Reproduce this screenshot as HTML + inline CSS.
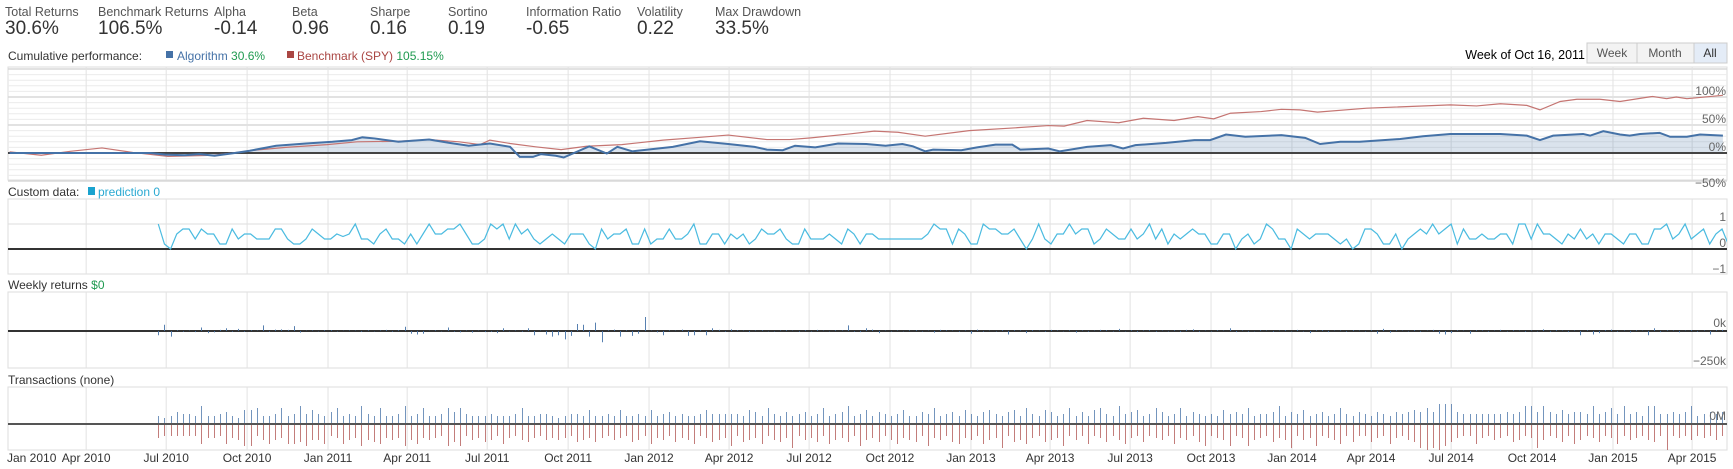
<!DOCTYPE html>
<html><head><meta charset="utf-8"><style>
html,body{margin:0;padding:0;background:#fff;width:1733px;height:469px;overflow:hidden}
svg{display:block;font-family:"Liberation Sans",sans-serif}
</style></head><body>
<svg id="chart" width="1733" height="469" viewBox="0 0 1733 469" xmlns="http://www.w3.org/2000/svg">
<g id="header"></g>
<g id="titles">
  <text x="8" y="60" font-size="12" fill="#333">Cumulative performance:</text>
  <rect x="166" y="51" width="7" height="7" fill="#4572a7"/>
  <text x="177" y="60" font-size="12" fill="#4572a7">Algorithm <tspan fill="#1f9a50">30.6%</tspan></text>
  <rect x="287" y="51" width="7" height="7" fill="#aa4643"/>
  <text x="297" y="60" font-size="12" fill="#aa4643">Benchmark (SPY) <tspan fill="#1f9a50">105.15%</tspan></text>
  <text x="1585" y="59" font-size="12.5" fill="#000" text-anchor="end">Week of Oct 16, 2011</text>
  <rect x="1587" y="43" width="50" height="20" fill="#f3f3f3" stroke="#ccc"/>
  <text x="1612" y="57" font-size="12" fill="#555" text-anchor="middle">Week</text>
  <rect x="1637" y="43" width="57" height="20" fill="#f3f3f3" stroke="#ccc"/>
  <text x="1665" y="57" font-size="12" fill="#555" text-anchor="middle">Month</text>
  <rect x="1694" y="43" width="33" height="20" fill="#e4ecf7" stroke="#ccc"/>
  <text x="1710" y="57" font-size="12" fill="#333" text-anchor="middle">All</text>
  <text x="8" y="196" font-size="12" fill="#333">Custom data:</text>
  <rect x="88" y="187" width="7" height="8" fill="#1aa3cf"/>
  <text x="98" y="196" font-size="12" fill="#2aa9d2">prediction 0</text>
  <text x="8" y="289" font-size="12" fill="#333">Weekly returns <tspan fill="#1f9a50">$0</tspan></text>
  <text x="8" y="384" font-size="12" fill="#333">Transactions (none)</text>
</g>
<g id="plots"></g>
</svg>
<script>
const statLabels=["Total Returns","Benchmark Returns","Alpha","Beta","Sharpe","Sortino","Information Ratio","Volatility","Max Drawdown"];
const statValues=["30.6%","106.5%","-0.14","0.96","0.16","0.19","-0.65","0.22","33.5%"];
const statX=[5,98,214,292,370,448,526,637,715];

const quarterLabels=["Jan 2010","Apr 2010","Jul 2010","Oct 2010","Jan 2011","Apr 2011","Jul 2011","Oct 2011","Jan 2012","Apr 2012","Jul 2012","Oct 2012","Jan 2013","Apr 2013","Jul 2013","Oct 2013","Jan 2014","Apr 2014","Jul 2014","Oct 2014","Jan 2015","Apr 2015"];
const quarterDates=["2010-01-01","2010-04-01","2010-07-01","2010-10-01","2011-01-01","2011-04-01","2011-07-01","2011-10-01","2012-01-01","2012-04-01","2012-07-01","2012-10-01","2013-01-01","2013-04-01","2013-07-01","2013-10-01","2014-01-01","2014-04-01","2014-07-01","2014-10-01","2015-01-01","2015-04-01"];

const benchDays=[3,39,72,108,143,183,235,282,317,364,398,445,480,514,538,549,572,601,630,659,699,746,788,820,864,890,914,958,986,1013,1044,1094,1147,1184,1202,1228,1264,1292,1327,1354,1372,1391,1426,1449,1470,1490,1546,1641,1671,1698,1728,1743,1766,1785,1811,1834,1871,1887,1898,1910,1951];
const benchVals=[2,-4,3,9,1,-6,-4,5,10,15,20,21,24,20,15,23,17,11,6,12,15,23,28,32,24,24,27,34,39,37,30,40,45,49,48,58,54,62,58,65,61,71,74,78,77,73,80,86,84,88,85,77,92,96,96,92,101,97,100,97,103];
const algoDays=[3,106,163,180,202,219,236,259,276,306,340,370,392,404,418,445,480,503,525,549,572,583,598,607,624,633,662,682,694,711,757,788,820,850,864,882,896,919,945,977,999,1018,1030,1044,1053,1085,1103,1124,1143,1152,1184,1197,1228,1255,1269,1283,1318,1350,1368,1386,1408,1449,1476,1493,1516,1538,1584,1610,1641,1698,1728,1743,1758,1792,1800,1815,1834,1845,1857,1879,1891,1910,1925,1951];
const algoVals=[0,0,0,-3,-4,-2,-5,0,4,13,17,20,23,28,26,20,24,18,13,17,11,-7,-7,-2,-5,-8,12,-1,11,3,11,21,16,11,6,5,13,10,17,16,13,16,12,3,6,5,10,15,15,6,8,3,11,14,8,14,18,23,23,33,29,32,27,16,20,20,25,30,34,34,31,23,31,34,31,39,33,31,34,36,29,29,33,31];
const cumTicks=[100,50,0,-50];

const predStartDay=172;
const predVals=[1,0.2,0,0.6,0.8,0.8,0.4,0.8,0.6,0.6,0.2,0.2,0.8,0.4,0.6,0.6,0.4,0.4,0.4,0.8,0.8,0.4,0.2,0.2,0.4,0.8,0.6,0.4,0.4,0.6,0.5,0.6,1,0.4,0.4,0.2,0.6,0.8,0.4,0.4,0.2,0.6,0.2,0.6,1,0.6,0.6,0.8,0.8,1,0.6,0.2,0.2,0.4,1,0.8,1,0.4,1,0.6,0.8,0.4,0.2,0.4,0.6,0.4,0.2,0.6,0.6,0.6,0.2,0,0.8,0.4,0.6,0.6,0.8,0.2,0.2,0.8,0.2,0.4,0.4,0.8,0.4,0.4,0.6,1,
0.2,0.2,0.6,0.6,0.2,0.6,0.4,0.6,0.2,0.4,0.8,0.6,0.6,0.8,0.4,0.2,0.2,0.8,0.4,0.4,0.4,0.6,0.4,0.2,0.8,0.6,0.2,0.6,0.6,0.4,0.4,0.4,0.4,0.4,0.4,0.4,0.4,0.6,1,0.8,0.8,0.2,0.8,0.6,0.2,0.2,1,0.8,0.8,0.6,0.6,0.8,0.4,0,0.4,1,0.4,0.2,0.6,0.6,1,0.6,0.8,0.8,0.2,0.4,0.8,0.6,0.4,0.4,0.8,0.4,0.6,1,0.4,0.8,0.2,0.6,0.4,0.6,0.8,0.6,0.6,0.2,0.2,0.6,0.6,0,0.4,0.6,0.2,0.4,1,0.8,0.4,0.4,0,0.8,
0.6,0.4,0.6,0.6,0.6,0.4,0.2,0.4,0,0.2,0.8,0.8,0.6,0.2,0.2,0.6,0,0.4,0.6,0.8,0.6,1,0.6,0.8,1,0.2,0.8,0.4,0.4,0.6,0.4,0.4,0.6,0.6,0.2,1,1,0.4,1,0.6,0.6,0.4,0.2,0.6,0.4,0.8,0.4,0.6,0.2,0.6,0.6,0.4,0.2,0.6,0.6,0.2,0.2,0.8,0.8,1,0.4,0.6,1,0.4,0.6,0.8,0.2,0.6,0.8,0.2,1];
const predTicks=[1,0,-1];

const weeklyRet=[-30,45,-40,5,-5,3,-8,25,-15,-10,8,20,-5,15,-5,
5,3,40,-5,10,12,8,35,-12,3,4,-3,5,6,-4,
2,4,3,-6,5,-3,4,8,-5,6,30,-20,-25,-20,2,
5,-3,25,-5,-10,4,-12,3,-8,-6,-15,20,-3,4,-5,
20,-30,3,-25,-40,-30,-60,-35,50,45,-40,60,-80,5,10,
-40,5,-35,-20,100,3,-10,-30,5,3,10,-35,-30,5,-30,
20,8,-5,12,5,3,-8,4,5,-3,-4,4,6,3,-5,
5,-4,8,3,-3,5,4,40,-5,-8,20,10,-15,3,-4,
4,-3,5,6,-4,3,-12,8,5,3,-5,4,-20,10,-5,
3,-4,6,-25,5,4,-15,6,3,-5,8,4,-3,5,-12,
4,-5,3,8,6,-4,15,-3,5,-8,4,6,-5,3,-4,
5,-6,8,12,-5,3,-4,5,3,20,-8,4,-5,-3,5,
4,-6,3,5,-3,8,-4,-15,5,6,-8,3,4,-5,6,
3,-4,5,-20,15,-12,5,3,-4,6,-5,3,8,-20,-25,
-15,5,3,-20,6,4,-5,3,8,-4,5,3,-6,4,-4,
12,-5,6,3,-8,4,-30,5,-25,-15,6,10,-5,4,-10,
5,3,-30,20,-8,5,4,-10,3,6,-5,4,-25,6,8];
const retTicks=[0,-250];

const buys=[0.4,0.3,0.4,0.6,0.5,0.5,0.4,0.9,0.4,0.4,0.5,0.6,0.4,0.3,0.7,
0.7,0.8,0.4,0.4,0.5,0.8,0.4,0.5,0.9,0.5,0.7,0.5,0.4,0.6,0.8,
0.4,0.5,0.4,0.9,0.5,0.4,0.8,0.4,0.4,0.5,0.9,0.4,0.5,0.8,0.4,
0.4,0.5,0.8,0.6,0.8,0.5,0.4,0.4,0.4,0.5,0.4,0.4,0.4,0.5,0.8,
0.4,0.4,0.5,0.5,0.4,0.3,0.4,0.5,0.5,0.4,0.7,0.4,0.4,0.5,0.4,
0.7,0.4,0.4,0.5,0.4,0.7,0.4,0.5,0.6,0.4,0.5,0.4,0.4,0.5,0.7,
0.5,0.5,0.5,0.5,0.5,0.4,0.7,0.6,0.4,0.8,0.5,0.4,0.6,0.4,0.5,
0.6,0.4,0.5,0.8,0.4,0.5,0.6,0.9,0.4,0.5,0.7,0.4,0.6,0.5,0.4,
0.5,0.7,0.4,0.4,0.6,0.5,0.8,0.4,0.5,0.6,0.4,0.7,0.5,0.4,0.6,
0.7,0.5,0.4,0.6,0.7,0.4,0.8,0.5,0.4,0.7,0.6,0.4,0.5,0.8,0.4,
0.6,0.4,0.7,0.8,0.5,0.4,0.9,0.5,0.6,0.7,0.4,0.5,0.8,0.6,0.4,
0.5,0.8,0.4,0.6,0.5,0.4,0.5,0.4,0.7,0.5,0.6,0.5,0.8,0.4,0.5,
0.5,0.6,0.9,0.4,0.6,0.5,0.7,0.4,0.5,0.6,0.4,0.5,0.8,0.5,0.4,
0.6,0.5,0.4,0.6,0.5,0.4,0.6,0.5,0.6,0.7,0.6,0.8,0.6,1.0,1.0,
1.0,0.6,0.5,0.5,0.5,0.5,0.5,0.5,0.5,0.6,0.5,0.6,0.9,0.9,0.6,
0.9,0.6,0.5,0.7,0.5,0.6,0.6,0.5,0.9,0.5,0.6,0.8,0.5,0.9,0.5,
0.6,0.4,0.9,0.9,0.5,0.5,0.6,0.5,0.6,0.9,0.4,0.5,0.6,0.5,0.6];
const sells=[-0.7,-0.6,-0.6,-0.6,-0.6,-0.6,-0.6,-1.0,-0.7,-0.7,-0.6,-1.0,-0.7,-0.8,-1.1,
-1.1,-0.6,-0.8,-1.0,-0.8,-0.7,-1.0,-1.0,-0.9,-1.1,-0.8,-0.8,-1.0,-0.6,-0.7,
-1.0,-0.8,-0.7,-1.1,-0.8,-0.9,-1.0,-0.7,-0.8,-0.7,-1.1,-0.8,-1.0,-0.7,-0.8,
-0.7,-0.6,-1.1,-0.9,-1.1,-0.6,-0.8,-0.7,-0.9,-0.8,-0.6,-1.0,-0.7,-0.6,-0.8,
-0.9,-0.7,-0.6,-0.8,-0.7,-0.8,-0.7,-0.6,-0.9,-0.8,-0.7,-0.9,-0.7,-0.6,-0.8,
-0.7,-0.6,-0.9,-0.8,-0.6,-1.0,-0.7,-0.8,-0.6,-0.9,-0.7,-0.8,-1.0,-0.6,-0.7,
-0.9,-0.8,-0.7,-1.1,-0.6,-0.9,-0.8,-0.7,-1.0,-0.6,-0.8,-0.9,-0.7,-1.2,-0.6,
-0.8,-0.7,-0.9,-0.6,-1.0,-0.8,-0.7,-0.9,-0.6,-1.1,-0.8,-0.7,-0.9,-0.6,-0.8,
-1.0,-0.7,-0.8,-0.9,-0.6,-1.1,-0.7,-0.8,-0.6,-0.9,-1.0,-0.7,-0.8,-0.6,-1.0,
-0.8,-0.7,-1.2,-0.6,-0.9,-0.8,-1.0,-0.7,-0.6,-0.9,-0.8,-0.7,-1.1,-0.6,-0.8,
-0.6,-1.0,-0.6,-0.7,-0.9,-0.6,-0.8,-1.0,-0.7,-0.6,-0.9,-0.6,-0.7,-0.8,-0.6,
-1.0,-0.7,-0.8,-0.6,-0.9,-1.1,-0.6,-0.7,-0.8,-1.1,-0.6,-0.7,-1.1,-0.8,-0.7,
-0.6,-0.9,-0.7,-0.8,-1.2,-0.6,-0.8,-0.7,-1.1,-0.6,-0.7,-0.8,-1.0,-0.6,-0.9,
-0.6,-0.6,-0.9,-0.7,-0.6,-1.0,-0.7,-0.6,-0.8,-0.9,-1.2,-1.3,-1.2,-1.3,-1.1,
-0.9,-0.7,-0.6,-0.6,-1.0,-0.7,-0.6,-0.8,-0.7,-0.6,-0.9,-0.8,-0.6,-0.7,-1.2,
-0.8,-0.6,-0.7,-0.9,-0.6,-1.0,-0.8,-0.6,-0.7,-0.9,-0.6,-0.7,-1.0,-0.6,-0.8,
-0.7,-0.6,-0.8,-0.9,-0.6,-1.7,-0.6,-0.7,-0.6,-0.8,-0.6,-0.7,-0.6,-0.8,-0.6];

const NS="http://www.w3.org/2000/svg";
const X0=7, PXD=0.8795, LEFT=8, RIGHT=1727;
function xDay(d){return X0+d*PXD;}
function dayOf(s){return (Date.UTC(+s.slice(0,4),+s.slice(5,7)-1,+s.slice(8,10))-Date.UTC(2010,0,1))/86400000;}
function weekDay(i){return predStartDay+7*i;}
const cumY=v=>153-v*0.56, predY=v=>249-v*25, retY=k=>331-k*0.14, transY=m=>424-m*20;
function el(tag,attrs,parent){const e=document.createElementNS(NS,tag);for(const k in attrs)e.setAttribute(k,attrs[k]);parent.appendChild(e);return e;}

const header=document.getElementById('header');
statLabels.forEach((l,i)=>{
  const t=el('text',{x:statX[i],y:16,'font-size':12.5,fill:'#555'},header);t.textContent=l;
  
  
  const v=el('text',{x:statX[i],y:34,'font-size':19,fill:'#333'},header);v.textContent=statValues[i];
  
  
});

const plots=document.getElementById('plots');
const panels=[{n:'cumulative-panel',t:67,b:180},{n:'custom-data-panel',t:199,b:274},{n:'weekly-returns-panel',t:292,b:368},{n:'transactions-panel',t:387,b:450}];
const defs=el('defs',{},plots);
panels.forEach((p,i)=>{
  const cp=el('clipPath',{id:'clip'+i},defs);
  el('rect',{x:LEFT,y:p.t,width:RIGHT-LEFT,height:p.b-p.t},cp);
});
panels.forEach((p,i)=>{
  const g=el('g',{},plots);
  
  
  p.g=g;
  const r=el('rect',{x:LEFT,y:p.t,width:RIGHT-LEFT,height:p.b-p.t,fill:'#fff',stroke:'#ddd'},g);
  
  
});
for(let v=-50;v<=150;v+=10){
  const ln=el('line',{x1:LEFT,x2:RIGHT,y1:cumY(v),y2:cumY(v),stroke:(v%50===0)?'#d8d8d8':'#ececec','stroke-width':(v%50===0)?1.5:1},panels[0].g);
  
  
}
el('line',{x1:LEFT,x2:RIGHT,y1:predY(1),y2:predY(1),stroke:'#ddd'},panels[1].g);
quarterDates.forEach((q,i)=>{
  const x=xDay(dayOf(q));
  panels.forEach(p=>{
    if(i===0)return;
    const ln=el('line',{x1:x,x2:x,y1:p.t,y2:p.b,stroke:'#e2e2e2'},p.g);
    
    
  });
  const t=el('text',{x:i===0?7:x,y:462,'font-size':12,fill:'#333','text-anchor':i===0?'start':'middle'},plots);
  t.textContent=quarterLabels[i];
  
  
});

const cg=el('g',{'clip-path':'url(#clip0)'},panels[0].g);
let ap=algoDays.map((d,i)=>xDay(d)+','+cumY(algoVals[i])).join(' ');
const area=el('polygon',{points:xDay(algoDays[0])+','+cumY(0)+' '+ap+' '+xDay(algoDays[algoDays.length-1])+','+cumY(0),fill:'rgba(69,114,167,0.2)'},cg);


const zl=el('line',{x1:LEFT,x2:RIGHT,y1:cumY(0),y2:cumY(0),stroke:'#444','stroke-width':2},cg);


const bl=el('polyline',{points:benchDays.map((d,i)=>xDay(d)+','+cumY(benchVals[i])).join(' '),fill:'none',stroke:'#c57572','stroke-width':1.2},cg);


const al=el('polyline',{points:ap,fill:'none',stroke:'#4572a7','stroke-width':2},cg);


cumTicks.forEach(v=>{
  const t=el('text',{x:1726,y:cumY(v)-2+(v===-50?8:0),'font-size':12,fill:'#666','text-anchor':'end'},panels[0].g);
  t.textContent=(v<0?'\u221250':v)+'%';
  
  
});

const pg=el('g',{'clip-path':'url(#clip1)'},panels[1].g);
const z1=el('line',{x1:LEFT,x2:RIGHT,y1:predY(0),y2:predY(0),stroke:'#333','stroke-width':2},pg);


const pl=el('polyline',{points:predVals.map((v,i)=>xDay(weekDay(i))+','+predY(v)).join(' '),fill:'none',stroke:'#4bbbe0','stroke-width':1.2},pg);


predTicks.forEach(v=>{
  const t=el('text',{x:1726,y:v===-1?273:predY(v)-3+(v===0?1:0),'font-size':12,fill:'#666','text-anchor':'end'},panels[1].g);
  t.textContent=v<0?'\u22121':String(v);
  
  
});

const rg=el('g',{'clip-path':'url(#clip2)'},panels[2].g);
const z2=el('line',{x1:LEFT,x2:RIGHT,y1:retY(0),y2:retY(0),stroke:'#333','stroke-width':2},rg);


weeklyRet.forEach((k,i)=>{
  const x=Math.round(xDay(weekDay(i)))+0.5;
  const b=el('line',{x1:x,x2:x,y1:retY(0),y2:retY(k),stroke:'#4572a7','stroke-opacity':0.9},rg);
  
  
});
retTicks.forEach(v=>{
  const t=el('text',{x:1726,y:v===0?retY(0)-4:365,'font-size':12,fill:'#666','text-anchor':'end'},panels[2].g);
  t.textContent=v<0?'\u2212250k':'0k';
  
  
});

const tg=el('g',{'clip-path':'url(#clip3)'},panels[3].g);
buys.forEach((m,i)=>{
  const x=Math.round(xDay(weekDay(i)))+0.5;
  const b=el('line',{x1:x,x2:x,y1:transY(0),y2:transY(m),stroke:'#4572a7','stroke-opacity':0.75},tg);
  
  
});
sells.forEach((m,i)=>{
  const x=Math.round(xDay(weekDay(i)))+0.5;
  const b=el('line',{x1:x,x2:x,y1:transY(0),y2:transY(m),stroke:'#aa4643','stroke-opacity':0.7},tg);
  
  
});
const z3=el('line',{x1:LEFT,x2:RIGHT,y1:transY(0),y2:transY(0),stroke:'#555','stroke-width':2},tg);


const t3=el('text',{x:1726,y:transY(0)-4,'font-size':12,fill:'#666','text-anchor':'end'},panels[3].g);
t3.textContent='0M';


</script>
</body></html>
